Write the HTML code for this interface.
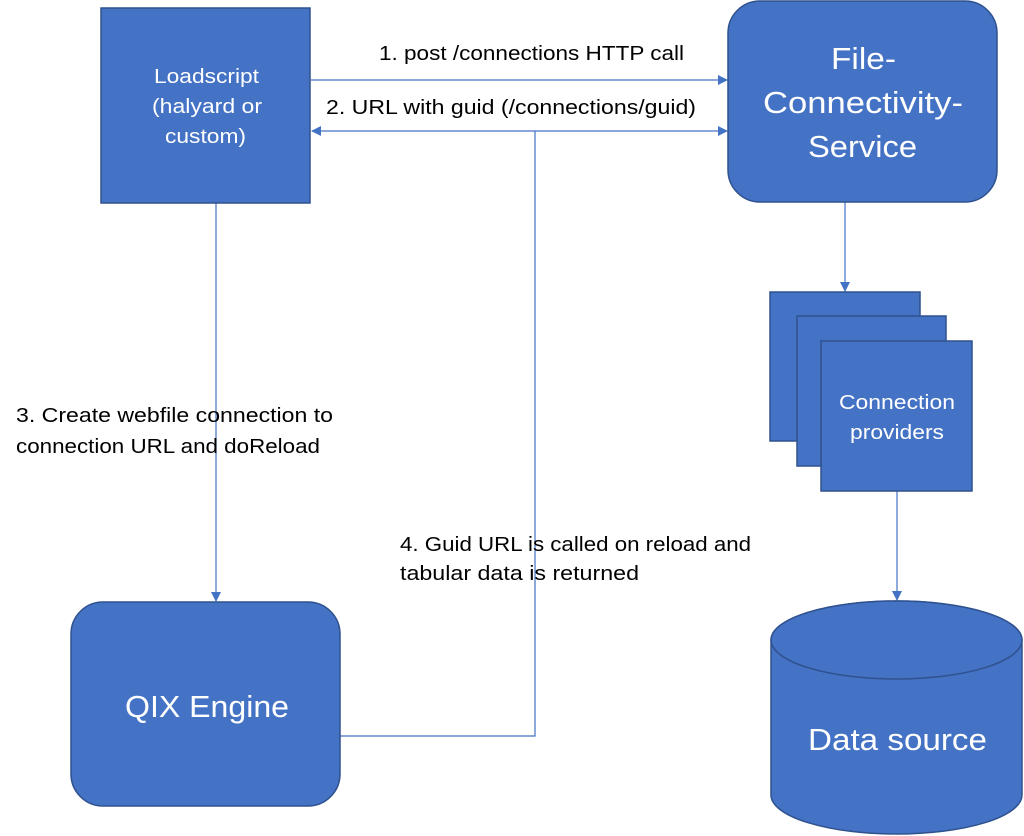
<!DOCTYPE html>
<html><head><style>
body{margin:0;background:#fff;width:1024px;height:836px;overflow:hidden}
svg{display:block}
text{font-family:"Liberation Sans",sans-serif}
</style></head><body>
<svg width="1024" height="836" viewBox="0 0 1024 836">
<defs>
<marker id="a" markerWidth="10" markerHeight="10" refX="9" refY="5" orient="auto" markerUnits="userSpaceOnUse">
<path d="M0,0 L10,5 L0,10 z" fill="#4472C4"/></marker>
<marker id="b" markerWidth="10" markerHeight="10" refX="1" refY="5" orient="auto" markerUnits="userSpaceOnUse">
<path d="M10,0 L0,5 L10,10 z" fill="#4472C4"/></marker>
</defs>
<g stroke="#4472C4" stroke-width="1.2" fill="none">
<line x1="311" y1="80" x2="727" y2="80" marker-end="url(#a)"/>
<line x1="312" y1="131" x2="727" y2="131" marker-start="url(#b)" marker-end="url(#a)"/>
<polyline points="535,131 535,736 340,736"/>
<line x1="216" y1="203" x2="216" y2="601" marker-end="url(#a)"/>
<line x1="845" y1="202" x2="845" y2="291" marker-end="url(#a)"/>
<line x1="897" y1="491" x2="897" y2="600" marker-end="url(#a)"/>
</g>
<g fill="#4472C4" stroke="#2F528F" stroke-width="1.5">
<rect x="101" y="8" width="209" height="195"/>
<rect x="728" y="1" width="269" height="201" rx="32"/>
<rect x="71" y="602" width="269" height="204" rx="32"/>
<rect x="770" y="292" width="150" height="149"/>
<rect x="797" y="316" width="149" height="150"/>
<rect x="821" y="341" width="151" height="150"/>
<path d="M771,640 L771,795 A125.5,39 0 0 0 1022,795 L1022,640 A125.5,39 0 0 0 771,640 z"/>
<ellipse cx="896.5" cy="640" rx="125.5" ry="39"/>
</g>
<g fill="#fff" lengthAdjust="spacingAndGlyphs">
<text x="154" y="83" font-size="20" textLength="105" lengthAdjust="spacingAndGlyphs">Loadscript</text>
<text x="152" y="113" font-size="20" textLength="110" lengthAdjust="spacingAndGlyphs">(halyard or</text>
<text x="165" y="143" font-size="20" textLength="81" lengthAdjust="spacingAndGlyphs">custom)</text>
<text x="831" y="69" font-size="31" textLength="65" lengthAdjust="spacingAndGlyphs">File-</text>
<text x="763" y="113" font-size="31" textLength="200" lengthAdjust="spacingAndGlyphs">Connectivity-</text>
<text x="808" y="157" font-size="31" textLength="109" lengthAdjust="spacingAndGlyphs">Service</text>
<text x="125" y="717" font-size="31" textLength="164" lengthAdjust="spacingAndGlyphs">QIX Engine</text>
<text x="839" y="409" font-size="20" textLength="116" lengthAdjust="spacingAndGlyphs">Connection</text>
<text x="850" y="439" font-size="20" textLength="94" lengthAdjust="spacingAndGlyphs">providers</text>
<text x="808" y="750" font-size="31" textLength="179" lengthAdjust="spacingAndGlyphs">Data source</text>
</g>
<g fill="#000" font-size="20">
<text x="379" y="60" textLength="305" lengthAdjust="spacingAndGlyphs">1. post /connections HTTP call</text>
<text x="326" y="114" textLength="370" lengthAdjust="spacingAndGlyphs">2. URL with guid (/connections/guid)</text>
<text x="16" y="422" textLength="317" lengthAdjust="spacingAndGlyphs">3. Create webfile connection to</text>
<text x="16" y="453" textLength="304" lengthAdjust="spacingAndGlyphs">connection URL and doReload</text>
<text x="400" y="551" textLength="351" lengthAdjust="spacingAndGlyphs">4. Guid URL is called on reload and</text>
<text x="400" y="580" textLength="239" lengthAdjust="spacingAndGlyphs">tabular data is returned</text>
</g>
</svg>
</body></html>
